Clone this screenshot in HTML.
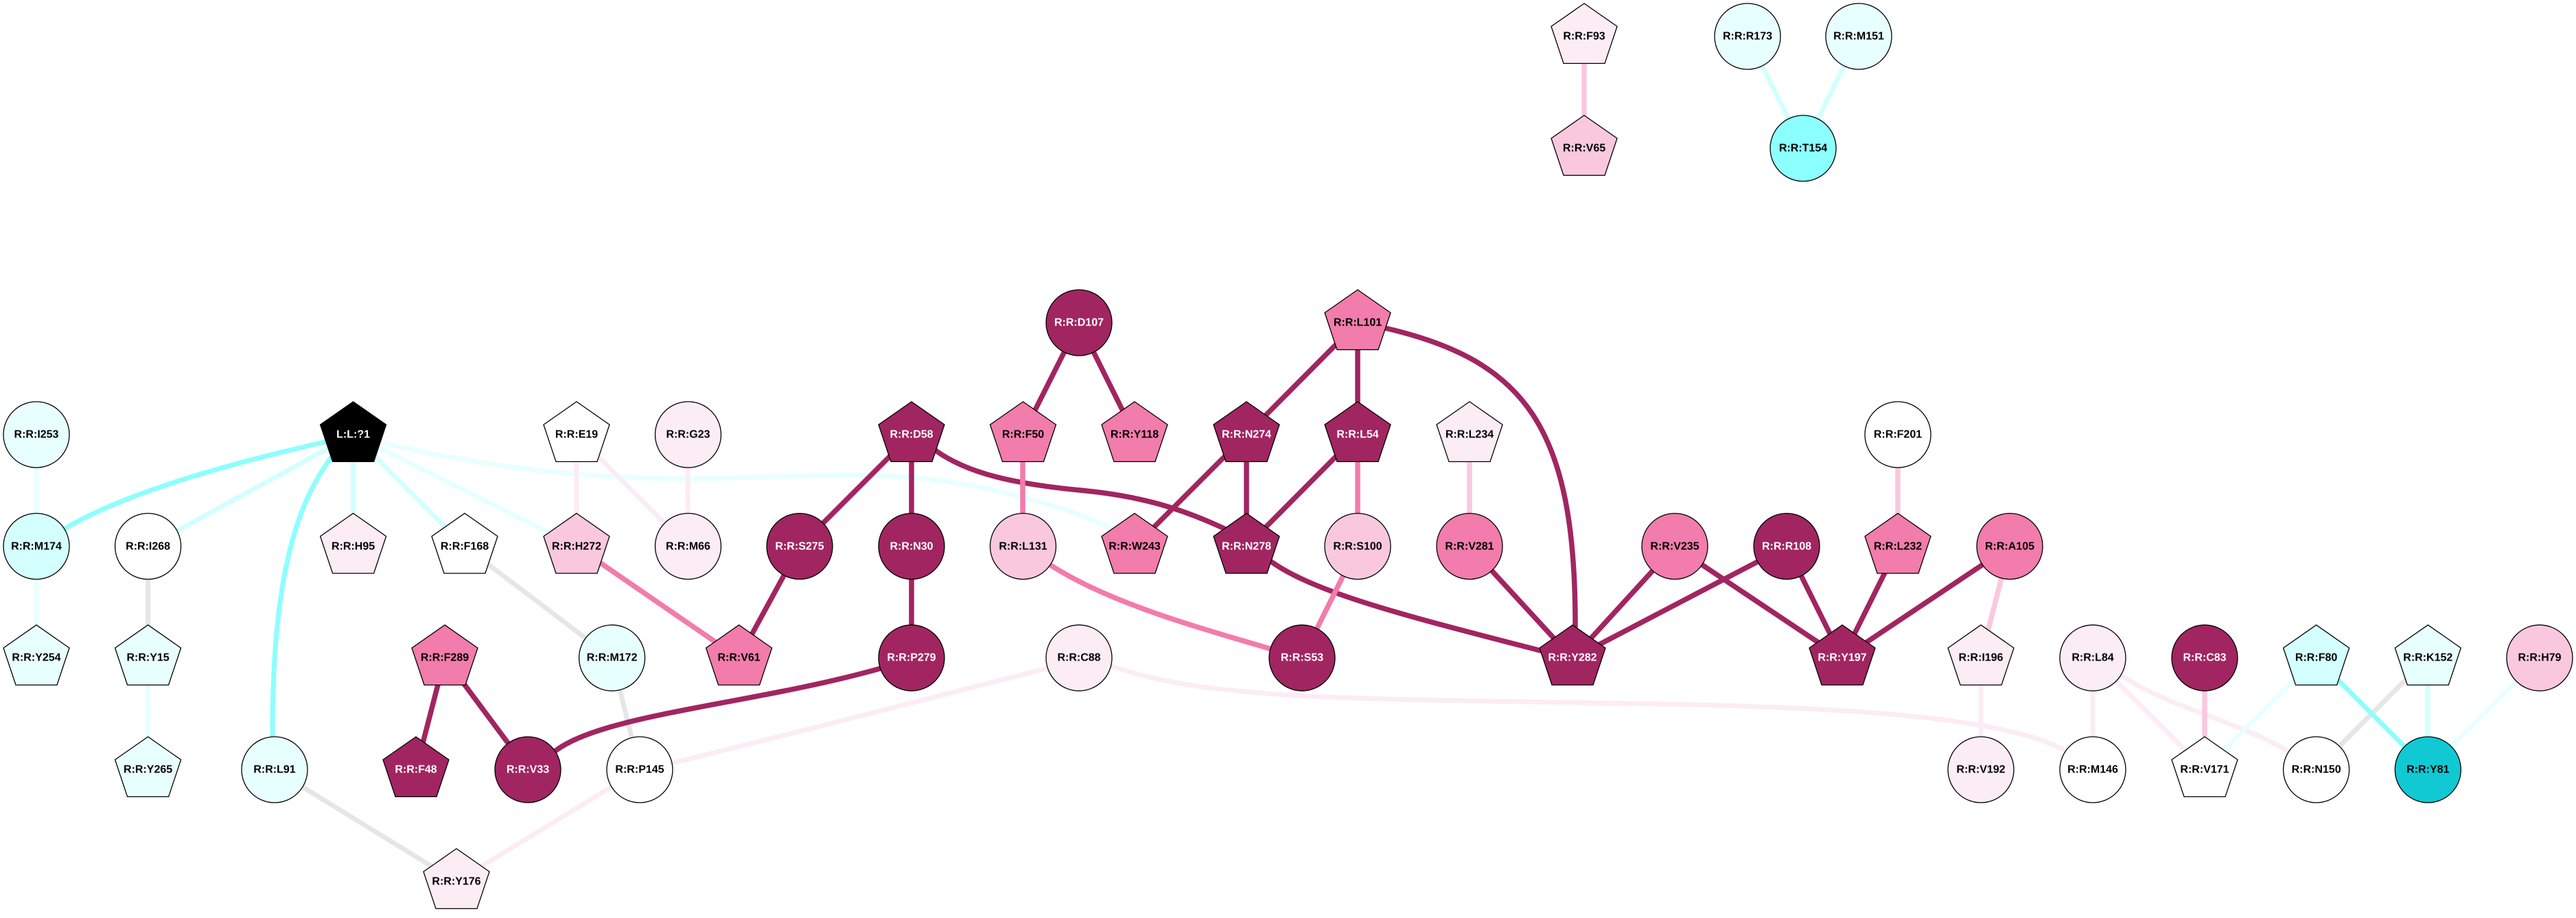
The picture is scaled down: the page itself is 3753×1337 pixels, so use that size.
<!DOCTYPE html>
<html><head><meta charset="utf-8"><style>
html,body{margin:0;padding:0;background:#fff}
svg{display:block}
text{font-family:"Liberation Sans",Arial,sans-serif;font-weight:bold;font-size:16px;text-anchor:middle;fill:#000;text-rendering:geometricPrecision}
text.w{fill:#fff}
.n{stroke:#000;stroke-width:1.3}
.e{fill:none;stroke-linejoin:round}
.d{stroke:#a12561;stroke-width:7.5}
.p{stroke:#f27cab;stroke-width:7.5}
.l{stroke:#f9c8de;stroke-width:7.5}
.v{stroke:#fcecf4;stroke-width:7}
.g{stroke:#e6e6e6;stroke-width:7}
.a{stroke:#e8ffff;stroke-width:7}
.b{stroke:#d3ffff;stroke-width:7}
.c{stroke:#8cffff;stroke-width:7}
</style></head><body>
<svg width="3753" height="1337" viewBox="0 0 3753 1337" xmlns="http://www.w3.org/2000/svg">
<defs><polygon id="pg" class="n" points="0,-48 48,-14.5 30,39.4 -30,39.4 -48,-14.5"/></defs>
<rect width="3753" height="1337" fill="#fff"/>
<g class="e">
<path class="l" d="M2308 53V216"/>
<path class="b" d="M2546 53L2627 216"/>
<path class="b" d="M2708 53L2627 216"/>
<path class="a" d="M53 633V796"/>
<path class="a" d="M53 796V958"/>
<path class="g" d="M215.6 796V958"/>
<path class="a" d="M215.6 958V1121"/>
<path class="c" d="M514.6 633L472 644C300 683 170 725 96 769L53 796"/>
<path class="b" d="M514.6 633L215.6 796"/>
<path class="c" d="M514.6 633L481 668C440 725 396 820 397 1074V1121"/>
<path class="b" d="M514.6 633V796"/>
<path class="b" d="M514.6 633L677 796"/>
<path class="a" d="M514.6 633L840 796"/>
<path class="a" d="M514.6 633L555 644C700 680 850 697 1000 697C1130 697 1220 687 1319 695C1420 701 1550 735 1619 770L1653 796"/>
<path class="v" d="M840 633V796"/>
<path class="v" d="M840 633L1002 796"/>
<path class="v" d="M1002 633V796"/>
<path class="p" d="M840 796L1076.5 958.5"/>
<path class="g" d="M677 796L891.6 958.5"/>
<path class="g" d="M891.6 958.5L932 1121"/>
<path class="g" d="M400 1121L665 1284"/>
<path class="v" d="M665 1284L932 1121"/>
<path class="v" d="M932 1121L980 1111C1150 1070 1380 1010 1523 974L1572 958"/>
<path class="v" d="M1572 958L1622 971C1720 1005 1850 1015 2100 1020L2400 1025C2700 1030 2920 1045 3009 1093L3049 1121"/>
<path class="d" d="M648 958.5L606 1121"/>
<path class="d" d="M648 958.5L769 1121"/>
<path class="d" d="M769 1121L810 1093C880 1040 1100 1025 1281 974L1328 958"/>
<path class="d" d="M1165 796L1076.5 958.5"/>
<path class="d" d="M1328 633L1165 796"/>
<path class="d" d="M1328 633V796"/>
<path class="d" d="M1328 796V958"/>
<path class="d" d="M1328 633L1363 656C1410 690 1480 705 1574 714C1660 722 1720 740 1784 770L1816 796"/>
<path class="d" d="M1816 796L1855 820C1920 865 2060 900 2242 947L2291 959"/>
<path class="d" d="M1572 470L1490 633"/>
<path class="d" d="M1572 470L1653 633"/>
<path class="p" d="M1490 633V796"/>
<path class="p" d="M1490 796L1532 824C1620 880 1750 915 1851 945L1897 959"/>
<path class="d" d="M1978 470L1816 633"/>
<path class="d" d="M1978 470V633"/>
<path class="d" d="M1816 633L1653 796"/>
<path class="d" d="M1816 633V796"/>
<path class="d" d="M1978 633L1816 796"/>
<path class="p" d="M1978 633V796"/>
<path class="p" d="M1978 796L1897 959"/>
<path class="d" d="M1978 470L2019 478C2220 525 2295 620 2295 909V959"/>
<path class="l" d="M2141 633V796"/>
<path class="d" d="M2141 796L2291 959"/>
<path class="d" d="M2440 796L2291 959"/>
<path class="d" d="M2603 796L2291 959"/>
<path class="d" d="M2440 796L2684 959"/>
<path class="d" d="M2603 796L2684 959"/>
<path class="d" d="M2765 796L2684 959"/>
<path class="d" d="M2928 796L2684 959"/>
<path class="l" d="M2765 633V796"/>
<path class="l" d="M2928 796L2886 958"/>
<path class="v" d="M2886 958V1121"/>
<path class="v" d="M3049 958V1121"/>
<path class="v" d="M3049 958L3212 1121"/>
<path class="v" d="M3049 958L3096 987C3160 1030 3260 1050 3335 1095L3374 1121"/>
<path class="l" d="M3212 958V1121"/>
<path class="a" d="M3374 958L3212 1121"/>
<path class="g" d="M3537 958L3374 1121"/>
<path class="c" d="M3374 958L3537 1121"/>
<path class="b" d="M3537 958V1121"/>
<path class="a" d="M3700 958L3537 1121"/>
</g>
<use href="#pg" x="2308" y="53" fill="#fcecf4"/><text x="2308" y="57.7">R:R:F93</text>
<use href="#pg" x="2308" y="216" fill="#f9c8de"/><text x="2308" y="220.7">R:R:V65</text>
<circle class="n" cx="2546" cy="53" r="48" fill="#e8ffff"/><text x="2546" y="57.7">R:R:R173</text>
<circle class="n" cx="2708" cy="53" r="48" fill="#e8ffff"/><text x="2708" y="57.7">R:R:M151</text>
<circle class="n" cx="2627" cy="216" r="48" fill="#8cffff"/><text x="2627" y="220.7">R:R:T154</text>
<circle class="n" cx="1572" cy="470" r="48" fill="#a12561"/><text class="w" x="1572" y="474.7">R:R:D107</text>
<use href="#pg" x="1978" y="470" fill="#f27cab"/><text x="1978" y="474.7">R:R:L101</text>
<circle class="n" cx="53" cy="633" r="48" fill="#e8ffff"/><text x="53" y="637.7">R:R:I253</text>
<use href="#pg" x="514.6" y="633" fill="#000"/><text class="w" x="514.6" y="637.7">L:L:?1</text>
<use href="#pg" x="840" y="633" fill="#fff"/><text x="840" y="637.7">R:R:E19</text>
<circle class="n" cx="1002.5" cy="633" r="48" fill="#fcecf4"/><text x="1002.5" y="637.7">R:R:G23</text>
<use href="#pg" x="1328" y="633" fill="#a12561"/><text class="w" x="1328" y="637.7">R:R:D58</text>
<use href="#pg" x="1490.5" y="633" fill="#f27cab"/><text x="1490.5" y="637.7">R:R:F50</text>
<use href="#pg" x="1653" y="633" fill="#f27cab"/><text x="1653" y="637.7">R:R:Y118</text>
<use href="#pg" x="1816" y="633" fill="#a12561"/><text class="w" x="1816" y="637.7">R:R:N274</text>
<use href="#pg" x="1978" y="633" fill="#a12561"/><text class="w" x="1978" y="637.7">R:R:L54</text>
<use href="#pg" x="2141" y="633" fill="#fcecf4"/><text x="2141" y="637.7">R:R:L234</text>
<circle class="n" cx="2765" cy="633" r="48" fill="#fff"/><text x="2765" y="637.7">R:R:F201</text>
<circle class="n" cx="53" cy="795.6" r="48" fill="#d3ffff"/><text x="53" y="800.3">R:R:M174</text>
<circle class="n" cx="215.6" cy="795.6" r="48" fill="#fff"/><text x="215.6" y="800.3">R:R:I268</text>
<use href="#pg" x="514.6" y="795.6" fill="#fcecf4"/><text x="514.6" y="800.3">R:R:H95</text>
<use href="#pg" x="677" y="795.6" fill="#fff"/><text x="677" y="800.3">R:R:F168</text>
<use href="#pg" x="840" y="795.6" fill="#f9c8de"/><text x="840" y="800.3">R:R:H272</text>
<circle class="n" cx="1002.5" cy="795.6" r="48" fill="#fcecf4"/><text x="1002.5" y="800.3">R:R:M66</text>
<circle class="n" cx="1165" cy="795.6" r="48" fill="#a12561"/><text class="w" x="1165" y="800.3">R:R:S275</text>
<circle class="n" cx="1328" cy="795.6" r="48" fill="#a12561"/><text class="w" x="1328" y="800.3">R:R:N30</text>
<circle class="n" cx="1490.5" cy="795.6" r="48" fill="#f9c8de"/><text x="1490.5" y="800.3">R:R:L131</text>
<use href="#pg" x="1653" y="795.6" fill="#f27cab"/><text x="1653" y="800.3">R:R:W243</text>
<use href="#pg" x="1816" y="795.6" fill="#a12561"/><text class="w" x="1816" y="800.3">R:R:N278</text>
<circle class="n" cx="1978" cy="795.6" r="48" fill="#f9c8de"/><text x="1978" y="800.3">R:R:S100</text>
<circle class="n" cx="2141" cy="795.6" r="48" fill="#f27cab"/><text x="2141" y="800.3">R:R:V281</text>
<circle class="n" cx="2440" cy="795.6" r="48" fill="#f27cab"/><text x="2440" y="800.3">R:R:V235</text>
<circle class="n" cx="2603" cy="795.6" r="48" fill="#a12561"/><text class="w" x="2603" y="800.3">R:R:R108</text>
<use href="#pg" x="2765" y="795.6" fill="#f27cab"/><text x="2765" y="800.3">R:R:L232</text>
<circle class="n" cx="2928" cy="795.6" r="48" fill="#f27cab"/><text x="2928" y="800.3">R:R:A105</text>
<use href="#pg" x="53" y="958.2" fill="#e8ffff"/><text x="53" y="962.6">R:R:Y254</text>
<use href="#pg" x="215.6" y="958.2" fill="#e8ffff"/><text x="215.6" y="962.6">R:R:Y15</text>
<use href="#pg" x="648" y="958.2" fill="#f27cab"/><text x="648" y="962.6">R:R:F289</text>
<circle class="n" cx="891.6" cy="958.2" r="48" fill="#e8ffff"/><text x="891.6" y="962.6">R:R:M172</text>
<use href="#pg" x="1076.6" y="958.2" fill="#f27cab"/><text x="1076.6" y="962.6">R:R:V61</text>
<circle class="n" cx="1328" cy="958.2" r="48" fill="#a12561"/><text class="w" x="1328" y="962.6">R:R:P279</text>
<circle class="n" cx="1572" cy="958.2" r="48" fill="#fcecf4"/><text x="1572" y="962.6">R:R:C88</text>
<circle class="n" cx="1897" cy="958.2" r="48" fill="#a12561"/><text class="w" x="1897" y="962.6">R:R:S53</text>
<use href="#pg" x="2291" y="958.2" fill="#a12561"/><text class="w" x="2291" y="962.6">R:R:Y282</text>
<use href="#pg" x="2684" y="958.2" fill="#a12561"/><text class="w" x="2684" y="962.6">R:R:Y197</text>
<use href="#pg" x="2886" y="958.2" fill="#fcecf4"/><text x="2886" y="962.6">R:R:I196</text>
<circle class="n" cx="3049" cy="958.2" r="48" fill="#fcecf4"/><text x="3049" y="962.6">R:R:L84</text>
<circle class="n" cx="3212" cy="958.2" r="48" fill="#a12561"/><text class="w" x="3212" y="962.6">R:R:C83</text>
<use href="#pg" x="3374.6" y="958.2" fill="#d3ffff"/><text x="3374.6" y="962.6">R:R:F80</text>
<use href="#pg" x="3537.3" y="958.2" fill="#e8ffff"/><text x="3537.3" y="962.6">R:R:K152</text>
<circle class="n" cx="3700" cy="958.2" r="48" fill="#f9c8de"/><text x="3700" y="962.6">R:R:H79</text>
<use href="#pg" x="215.6" y="1121" fill="#e8ffff"/><text x="215.6" y="1125.7">R:R:Y265</text>
<circle class="n" cx="400" cy="1121" r="48" fill="#e8ffff"/><text x="400" y="1125.7">R:R:L91</text>
<use href="#pg" x="606" y="1121" fill="#a12561"/><text class="w" x="606" y="1125.7">R:R:F48</text>
<circle class="n" cx="769" cy="1121" r="48" fill="#a12561"/><text class="w" x="769" y="1125.7">R:R:V33</text>
<circle class="n" cx="932" cy="1121" r="48" fill="#fff"/><text x="932" y="1125.7">R:R:P145</text>
<circle class="n" cx="2886" cy="1121" r="48" fill="#fcecf4"/><text x="2886" y="1125.7">R:R:V192</text>
<circle class="n" cx="3049" cy="1121" r="48" fill="#fff"/><text x="3049" y="1125.7">R:R:M146</text>
<use href="#pg" x="3212" y="1121" fill="#fff"/><text x="3212" y="1125.7">R:R:V171</text>
<circle class="n" cx="3374.6" cy="1121" r="48" fill="#fff"/><text x="3374.6" y="1125.7">R:R:N150</text>
<circle class="n" cx="3537.3" cy="1121" r="48" fill="#10c9d3"/><text x="3537.3" y="1125.7">R:R:Y81</text>
<use href="#pg" x="665" y="1284" fill="#fcecf4"/><text x="665" y="1288.7">R:R:Y176</text>
</svg>
</body></html>
